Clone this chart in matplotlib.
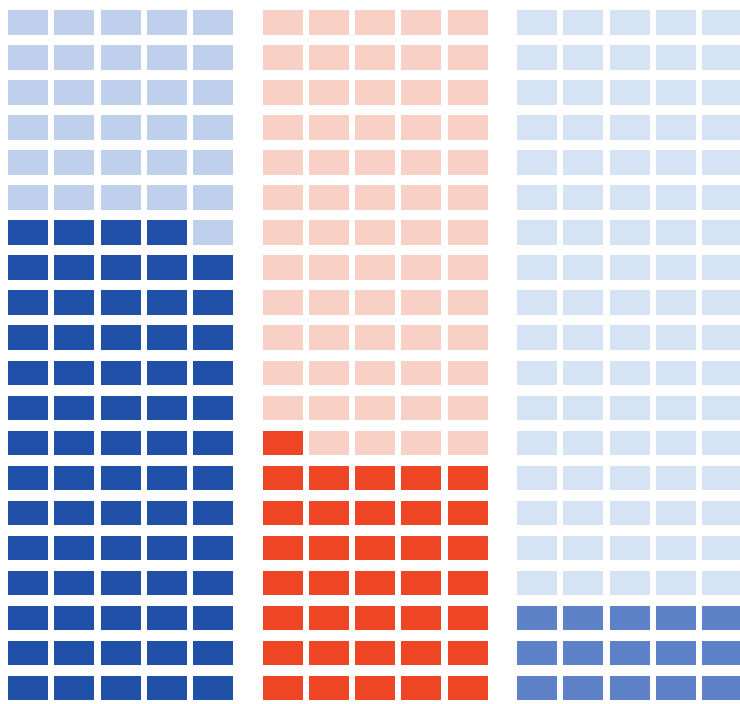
import matplotlib
matplotlib.use("Agg")
import matplotlib.pyplot as plt
from matplotlib.patches import Rectangle

# one waffle per group, 5 x 20 cells, filled from the bottom row up
groups = ["A", "B", "C"]
filled = [69, 36, 15]
total = [100, 100, 100]
dark = ["#2150a8", "#ee4624", "#5d82c8"]
light = ["#bfd0ec", "#f9d0c6", "#d6e3f4"]

n_cols = 5
n_rows = 20

# layout in pixels
x0, y0 = 8, 10
cell_w, cell_h = 40, 24.5
pitch_x, pitch_y = 46.3, 35.05
group_step = 254.5

fig = plt.figure(figsize=(7.4, 7.04), dpi=100)
ax = fig.add_axes([0, 0, 1, 1])
ax.set_xlim(0, 740)
ax.set_ylim(704, 0)
ax.axis("off")

for g, name in enumerate(groups):
    for k in range(total[g]):
        row = n_rows - 1 - k // n_cols
        col = k % n_cols
        x = x0 + g * group_step + col * pitch_x
        y = y0 + row * pitch_y
        color = dark[g] if k < filled[g] else light[g]
        ax.add_patch(Rectangle((x, y), cell_w, cell_h, facecolor=color,
                               edgecolor="none"))

plt.savefig("out.png", dpi=100)
